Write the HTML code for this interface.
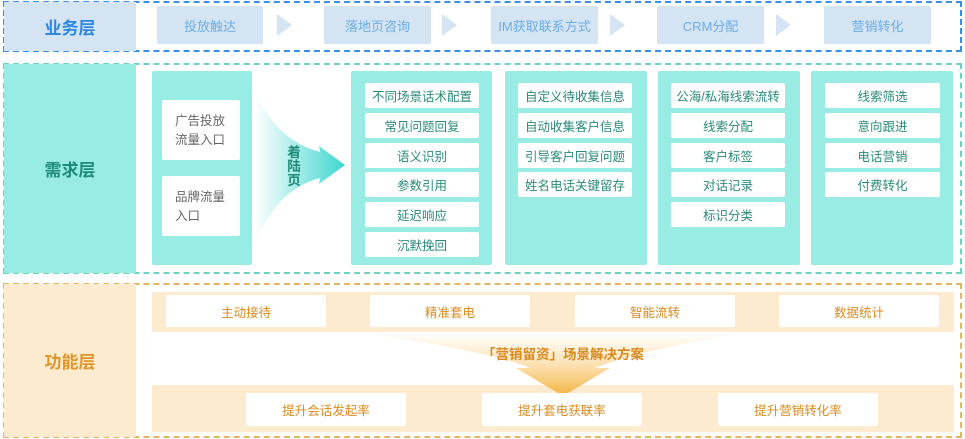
<!DOCTYPE html>
<html><head><meta charset="utf-8"><style>
body{margin:0;width:965px;height:439px;background:#fff;position:relative;overflow:hidden;font-family:"Liberation Sans","Noto Sans CJK SC",sans-serif}
.a{position:absolute;box-sizing:border-box}
.c{display:flex;align-items:center;justify-content:center}
.bx{background:#d5e4f2;color:#6aaee8;font-size:13px;border-radius:2px}
.p{background:#98ece4;border-radius:2px}
.it{background:#fff;color:#2a8a7a;font-size:12.5px;border-radius:2px;height:25px}
.ob{background:#fff;color:#d98a1e;font-size:12.5px;border-radius:2px}
</style></head><body>
<!-- top -->
<div class="a" style="left:3px;top:1px;width:959px;height:51px;border:2px dashed #3a8ee6"></div>
<div class="a c" style="left:4px;top:2px;width:132px;height:49px;background:#d5e4f2;color:#2b88e0;font-size:17px;font-weight:bold">业务层</div>
<div class="a c bx" style="left:157px;top:6px;width:106px;height:38px">投放触达</div>
<div class="a c bx" style="left:324px;top:6px;width:107px;height:38px">落地页咨询</div>
<div class="a c bx" style="left:491px;top:6px;width:107px;height:38px">IM获取联系方式</div>
<div class="a c bx" style="left:657px;top:6px;width:107px;height:38px">CRM分配</div>
<div class="a c bx" style="left:824px;top:6px;width:107px;height:38px">营销转化</div>
<svg class="a" style="left:0;top:0" width="965" height="60">
<polygon points="277,14 292,25 277,36" fill="#d5e4f2"/>
<polygon points="442,14 457,25 442,36" fill="#d5e4f2"/>
<polygon points="610,14 625,25 610,36" fill="#d5e4f2"/>
<polygon points="776,14 791,25 776,36" fill="#d5e4f2"/>
</svg>
<!-- middle -->
<div class="a" style="left:3px;top:63px;width:959px;height:211px;border:2px dashed #6fd0c4"></div>
<div class="a c" style="left:4px;top:64px;width:132px;height:209px;background:#98ece4;color:#1e8a78;font-size:17px;font-weight:bold">需求层</div>
<div class="a p" style="left:152px;top:71px;width:100px;height:194px"></div>
<div class="a" style="left:162px;top:100px;width:78px;height:60px;background:#fff;border-radius:2px;color:#666;font-size:12.5px;padding:12px 0 0 13px;line-height:19px">广告投放<br>流量入口</div>
<div class="a" style="left:162px;top:176px;width:78px;height:60px;background:#fff;border-radius:2px;color:#666;font-size:12.5px;padding:12px 0 0 13px;line-height:19px">品牌流量<br>入口</div>
<svg class="a" style="left:250px;top:60px" width="110" height="215">
<defs><linearGradient id="g" x1="0" x2="1"><stop offset="0" stop-color="#fff"/><stop offset="1" stop-color="#3fd6d0"/></linearGradient>
<linearGradient id="o" x1="0" y1="0" x2="0" y2="1"><stop offset="0" stop-color="#fff" stop-opacity="0.6"/><stop offset="1" stop-color="#f5b440"/></linearGradient></defs>
<path d="M5,30 Q25,80 70,92 L69,86 L95,105 L69,124 L70,118 Q25,130 5,185 Z" fill="url(#g)"/>
</svg>
<div class="a" style="left:286px;top:146px;width:16px;color:#1e8a78;font-size:13.5px;font-weight:bold;line-height:14px;text-align:center">着<br>陆<br>页</div>
<div class="a p" style="left:351px;top:71px;width:141px;height:194px"></div>
<div class="a p" style="left:505px;top:71px;width:142px;height:194px"></div>
<div class="a p" style="left:658px;top:71px;width:142px;height:194px"></div>
<div class="a p" style="left:811px;top:71px;width:142px;height:194px"></div>
<div class="a c it" style="left:365px;top:83px;width:114px">不同场景话术配置</div>
<div class="a c it" style="left:365px;top:113px;width:114px">常见问题回复</div>
<div class="a c it" style="left:365px;top:143px;width:114px">语义识别</div>
<div class="a c it" style="left:365px;top:172px;width:114px">参数引用</div>
<div class="a c it" style="left:365px;top:202px;width:114px">延迟响应</div>
<div class="a c it" style="left:365px;top:232px;width:114px">沉默挽回</div>
<div class="a c it" style="left:518px;top:83px;width:114px">自定义待收集信息</div>
<div class="a c it" style="left:518px;top:113px;width:114px">自动收集客户信息</div>
<div class="a c it" style="left:518px;top:143px;width:114px">引导客户回复问题</div>
<div class="a c it" style="left:518px;top:172px;width:114px">姓名电话关键留存</div>
<div class="a c it" style="left:671px;top:83px;width:114px">公海/私海线索流转</div>
<div class="a c it" style="left:671px;top:113px;width:114px">线索分配</div>
<div class="a c it" style="left:671px;top:143px;width:114px">客户标签</div>
<div class="a c it" style="left:671px;top:172px;width:114px">对话记录</div>
<div class="a c it" style="left:671px;top:202px;width:114px">标识分类</div>
<div class="a c it" style="left:825px;top:83px;width:115px">线索筛选</div>
<div class="a c it" style="left:825px;top:113px;width:115px">意向跟进</div>
<div class="a c it" style="left:825px;top:143px;width:115px">电话营销</div>
<div class="a c it" style="left:825px;top:172px;width:115px">付费转化</div>
<!-- bottom -->
<div class="a" style="left:3px;top:283px;width:959px;height:155px;border:2px dashed #e6b563"></div>
<div class="a c" style="left:4px;top:284px;width:132px;height:153px;background:#fdebd0;color:#e0952a;font-size:17px;font-weight:bold">功能层</div>
<div class="a" style="left:152px;top:292px;width:802px;height:40px;background:#fdebd0"></div>
<div class="a" style="left:152px;top:385px;width:802px;height:47px;background:#fdebd0"></div>
<svg class="a" style="left:0;top:0" width="965" height="439">
<path d="M355,332 L750,332 Q640,350 595,368 L610,368 L563,396 L516,368 L531,368 Q485,350 355,332 Z" fill="url(#o)"/>
</svg>
<div class="a c ob" style="left:166px;top:295px;width:160px;height:32px">主动接待</div>
<div class="a c ob" style="left:370px;top:295px;width:160px;height:32px">精准套电</div>
<div class="a c ob" style="left:575px;top:295px;width:160px;height:32px">智能流转</div>
<div class="a c ob" style="left:779px;top:295px;width:160px;height:32px">数据统计</div>
<div class="a c" style="left:403px;top:343px;width:320px;height:20px;color:#d98a1e;font-size:13.5px;font-weight:bold">「营销留资」场景解决方案</div>
<div class="a c ob" style="left:246px;top:393px;width:160px;height:33px">提升会话发起率</div>
<div class="a c ob" style="left:482px;top:393px;width:160px;height:33px">提升套电获联率</div>
<div class="a c ob" style="left:718px;top:393px;width:160px;height:33px">提升营销转化率</div>
</body></html>
